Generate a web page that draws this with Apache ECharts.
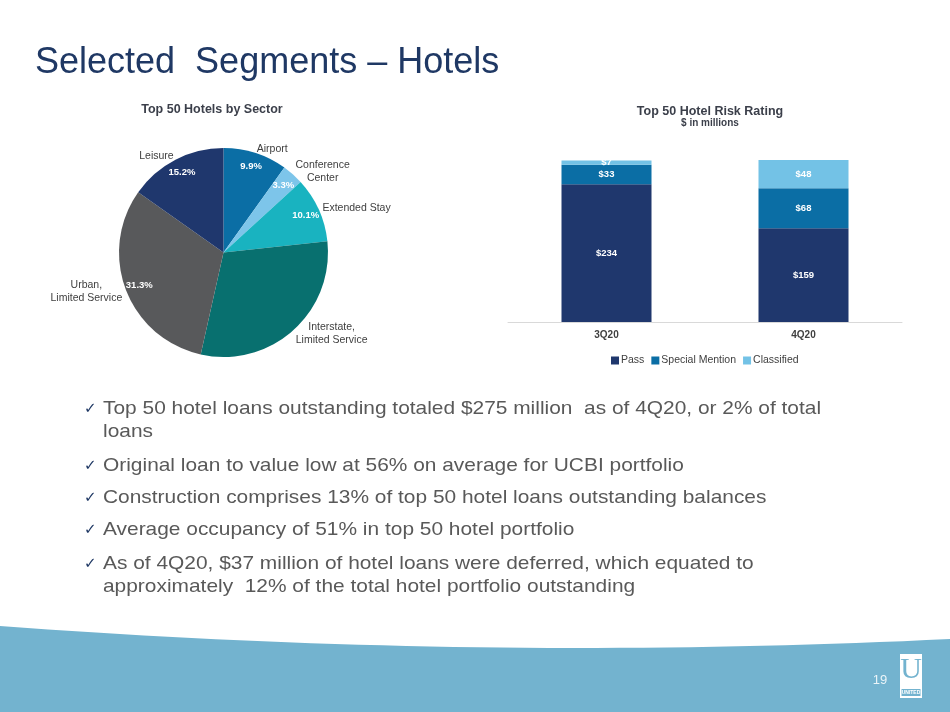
<!DOCTYPE html>
<html>
<head>
<meta charset="utf-8">
<title>Selected Segments – Hotels</title>
<script src="https://cdn.jsdelivr.net/npm/echarts@6/dist/echarts.min.js"></script>
<style>
  html, body { margin: 0; padding: 0; background: #fff; }
  #main { width: 950px; height: 712px; }
</style>
</head>
<body>
<div id="main"></div>
<script>
// pie: top 50 hotels by sector (percent)
var sectors = ['Airport', 'Conference\nCenter', 'Extended Stay', 'Interstate,\nLimited Service', 'Urban,\nLimited Service', 'Leisure'];
var sectorShare = [9.9, 3.3, 10.1, 30.2, 31.3, 15.2];
var sectorColors = ['#0B6EA5', '#7DC5EA', '#19B3C0', '#08706F', '#58595B', '#1F376D'];

// stacked bars: risk rating ($ in millions)
var quarters = ['3Q20', '4Q20'];
var pass = [234, 159];
var specialMention = [33, 68];
var classified = [7, 48];

var bullets = [
  ['Top 50 hotel loans outstanding totaled $275 million  as of 4Q20, or 2% of total', 'loans'],
  ['Original loan to value low at 56% on average for UCBI portfolio'],
  ['Construction comprises 13% of top 50 hotel loans outstanding balances'],
  ['Average occupancy of 51% in top 50 hotel portfolio'],
  ['As of 4Q20, $37 million of hotel loans were deferred, which equated to', 'approximately  12% of the total hotel portfolio outstanding']
];
var bulletTops = [409, 466, 498, 530, 564];

var chart = echarts.init(document.getElementById('main'), null, { renderer: 'canvas' });

var FONT = '"Liberation Sans", Arial, sans-serif';

var pieData = sectors.map(function (n, i) {
  return { name: n, value: sectorShare[i], itemStyle: { color: sectorColors[i] } };
});

// bottom wave (quadratic curve, sampled)
var wave = [];
for (var k = 0; k <= 40; k++) {
  var t = k / 40;
  wave.push([2 * (1 - t) * t * 480 + t * t * 950,
             (1 - t) * (1 - t) * 626 + 2 * (1 - t) * t * 662 + t * t * 639]);
}
wave.push([950, 712], [0, 712]);

// slide decorations + text
var graphics = [
  {
    type: 'polygon', silent: true, z: 0,
    shape: { points: wave },
    style: { fill: '#73B3CF' }
  },
  {
    type: 'text', x: 35, y: 63,
    style: { text: 'Selected  Segments – Hotels', font: '36px ' + FONT, fill: '#1F3864', textVerticalAlign: 'middle' }
  },
  {
    type: 'text', x: 212, y: 109.5,
    style: { text: 'Top 50 Hotels by Sector', font: 'bold 12.5px ' + FONT, fill: '#3B3F4A', textAlign: 'center', textVerticalAlign: 'middle' }
  },
  {
    type: 'text', x: 710, y: 111.5,
    style: { text: 'Top 50 Hotel Risk Rating', font: 'bold 12.5px ' + FONT, fill: '#3B3F4A', textAlign: 'center', textVerticalAlign: 'middle' }
  },
  {
    type: 'text', x: 710, y: 123.5,
    style: { text: '$ in millions', font: 'bold 10px ' + FONT, fill: '#3B3F4A', textAlign: 'center', textVerticalAlign: 'middle' }
  },
  {
    type: 'text', x: 880, y: 680,
    style: { text: '19', font: '13px ' + FONT, fill: '#EAF4F8', textAlign: 'center', textVerticalAlign: 'middle' }
  },
  // logo
  { type: 'rect', shape: { x: 900, y: 654, width: 22, height: 44 }, style: { fill: '#fff' } },
  {
    type: 'text', x: 911, y: 670,
    style: { text: 'U', font: '30px "Liberation Serif", serif', fill: '#73B3CF', textAlign: 'center', textVerticalAlign: 'middle' }
  },
  { type: 'rect', shape: { x: 901.5, y: 689, width: 19, height: 7 }, style: { fill: '#73B3CF' } },
  {
    type: 'text', x: 911, y: 692.5,
    style: { text: 'UNITED', font: 'bold 5px ' + FONT, fill: '#fff', textAlign: 'center', textVerticalAlign: 'middle' }
  }
];

var lineGap = 23;
bullets.forEach(function (b, i) {
  graphics.push({
    type: 'text', x: 84, y: bulletTops[i],
    style: { text: '✓', font: '15px "DejaVu Sans", sans-serif', fill: '#1F3864', textVerticalAlign: 'middle' }
  });
  b.forEach(function (line, j) {
    graphics.push({
      type: 'text', x: 103, y: bulletTops[i] + j * lineGap, scaleX: 1.1,
      style: { text: line, font: '19px ' + FONT, fill: '#595959', textVerticalAlign: 'middle' }
    });
  });
});

var barLabel = {
  show: true,
  position: 'inside',
  color: '#fff',
  fontWeight: 'bold',
  fontSize: 9.5,
  fontFamily: FONT,
  formatter: function (p) { return '$' + p.value; }
};

var option = {
  animation: false,
  backgroundColor: '#fff',
  graphic: graphics,
  legend: {
    data: ['Pass', 'Special Mention', 'Classified'],
    left: 606,
    top: 350,
    itemWidth: 8,
    itemHeight: 8,
    itemGap: 7,
    icon: 'rect',
    textStyle: { fontSize: 10.5, color: '#404040', fontFamily: FONT, padding: [0, 0, 0, -3] }
  },
  grid: {
    left: 508,
    right: 48,
    top: 160,
    bottom: 390
  },
  xAxis: {
    type: 'category',
    data: quarters,
    axisTick: { show: false },
    axisLine: { lineStyle: { color: '#D9D9D9', width: 1 } },
    axisLabel: { color: '#404040', fontWeight: 'bold', fontSize: 10, margin: 8, fontFamily: FONT }
  },
  yAxis: {
    type: 'value',
    min: 0,
    max: 275,
    show: false
  },
  series: [
    {
      type: 'pie',
      center: [223.5, 252.5],
      radius: [0, 104.5],
      startAngle: 90,
      clockwise: true,
      silent: true,
      data: pieData,
      label: {
        show: true,
        position: 'outside',
        distanceToLabelLine: 0,
        color: '#404040',
        fontSize: 10.5,
        lineHeight: 13,
        fontFamily: FONT,
        formatter: '{c|{b}}',
        rich: { c: { align: 'center', fontSize: 10.5, lineHeight: 13, color: '#404040', fontFamily: FONT } }
      },
      labelLine: { show: false, length: 4, length2: 0 }
    },
    {
      type: 'pie',
      center: [223.5, 252.5],
      radius: [70, 104.5],
      startAngle: 90,
      clockwise: true,
      silent: true,
      data: sectors.map(function (n, i) { return { name: n, value: sectorShare[i] }; }),
      itemStyle: { color: 'rgba(0,0,0,0)' },
      label: {
        show: true,
        position: 'inside',
        color: '#fff',
        fontWeight: 'bold',
        fontSize: 9.5,
        fontFamily: FONT,
        formatter: function (p) { return p.value.toFixed(1) + '%'; }
      },
      labelLine: { show: false }
    },
    {
      name: 'Pass', type: 'bar', stack: 'risk', barWidth: 90,
      itemStyle: { color: '#1F376D' }, label: barLabel, data: pass
    },
    {
      name: 'Special Mention', type: 'bar', stack: 'risk', barWidth: 90,
      itemStyle: { color: '#0B6EA5' }, label: barLabel, data: specialMention
    },
    {
      name: 'Classified', type: 'bar', stack: 'risk', barWidth: 90,
      itemStyle: { color: '#73C2E6' }, label: barLabel, data: classified
    }
  ]
};

chart.setOption(option);
</script>
</body>
</html>
